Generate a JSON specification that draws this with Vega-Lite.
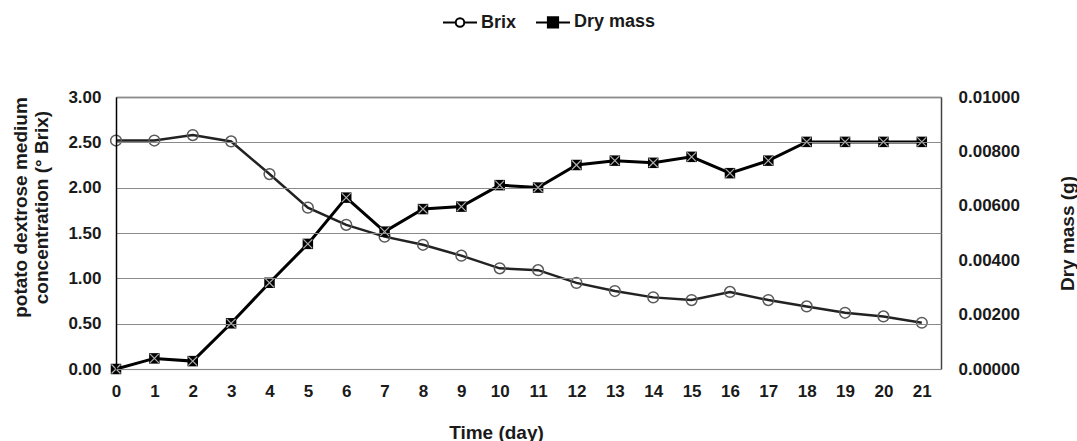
{
  "$schema": "https://vega.github.io/schema/vega-lite/v6.json",
  "autosize": "none",
  "width": 825,
  "height": 272,
  "padding": {"left": 116, "top": 97, "right": 136, "bottom": 72},
  "background": "white",
  "config": {
    "view": {"stroke": null},
    "font": "Liberation Sans",
    "axis": {"labelFont": "Liberation Sans", "titleFont": "Liberation Sans", "labelFontWeight": "bold", "titleFontWeight": "bold", "labelColor": "#1a1a1a", "titleColor": "#1a1a1a"},
    "legend": {"labelFont": "Liberation Sans", "labelFontWeight": "bold"}
  },
  "data": {
    "values": [
      {"day": 0, "series": "Brix", "value": 2.52},
      {"day": 1, "series": "Brix", "value": 2.52},
      {"day": 2, "series": "Brix", "value": 2.58},
      {"day": 3, "series": "Brix", "value": 2.51},
      {"day": 4, "series": "Brix", "value": 2.15},
      {"day": 5, "series": "Brix", "value": 1.78},
      {"day": 6, "series": "Brix", "value": 1.59},
      {"day": 7, "series": "Brix", "value": 1.46},
      {"day": 8, "series": "Brix", "value": 1.37},
      {"day": 9, "series": "Brix", "value": 1.25},
      {"day": 10, "series": "Brix", "value": 1.11},
      {"day": 11, "series": "Brix", "value": 1.09},
      {"day": 12, "series": "Brix", "value": 0.95},
      {"day": 13, "series": "Brix", "value": 0.86},
      {"day": 14, "series": "Brix", "value": 0.79},
      {"day": 15, "series": "Brix", "value": 0.76},
      {"day": 16, "series": "Brix", "value": 0.85},
      {"day": 17, "series": "Brix", "value": 0.76},
      {"day": 18, "series": "Brix", "value": 0.69},
      {"day": 19, "series": "Brix", "value": 0.62},
      {"day": 20, "series": "Brix", "value": 0.58},
      {"day": 21, "series": "Brix", "value": 0.51},
      {"day": 0, "series": "Dry mass", "value": 0.0},
      {"day": 1, "series": "Dry mass", "value": 0.00039},
      {"day": 2, "series": "Dry mass", "value": 0.00029},
      {"day": 3, "series": "Dry mass", "value": 0.00168},
      {"day": 4, "series": "Dry mass", "value": 0.00317},
      {"day": 5, "series": "Dry mass", "value": 0.0046},
      {"day": 6, "series": "Dry mass", "value": 0.0063},
      {"day": 7, "series": "Dry mass", "value": 0.00505},
      {"day": 8, "series": "Dry mass", "value": 0.00588},
      {"day": 9, "series": "Dry mass", "value": 0.00597},
      {"day": 10, "series": "Dry mass", "value": 0.00676},
      {"day": 11, "series": "Dry mass", "value": 0.00667},
      {"day": 12, "series": "Dry mass", "value": 0.0075},
      {"day": 13, "series": "Dry mass", "value": 0.00766},
      {"day": 14, "series": "Dry mass", "value": 0.00758},
      {"day": 15, "series": "Dry mass", "value": 0.0078},
      {"day": 16, "series": "Dry mass", "value": 0.0072},
      {"day": 17, "series": "Dry mass", "value": 0.00766},
      {"day": 18, "series": "Dry mass", "value": 0.00835},
      {"day": 19, "series": "Dry mass", "value": 0.00835},
      {"day": 20, "series": "Dry mass", "value": 0.00835},
      {"day": 21, "series": "Dry mass", "value": 0.00835}
    ]
  },
  "layer": [
    {
      "transform": [{"filter": "datum.series === 'Brix'"}],
      "encoding": {
        "x": {
          "field": "day", "type": "quantitative",
          "scale": {"domain": [0, 21.5], "nice": false, "zero": false},
          "axis": {
            "orient": "bottom",
            "values": [0,1,2,3,4,5,6,7,8,9,10,11,12,13,14,15,16,17,18,19,20,21],
            "format": "d", "labelFontSize": 17, "labelPadding": 14, "labelFlush": false, "labelOverlap": false,
            "ticks": false, "grid": false, "domainColor": "#d9d9d9", "domainWidth": 1.5,
            "title": "Time (day)", "titleFontSize": 19, "titleX": 380, "titleY": 63, "titleAlign": "center", "titleBaseline": "middle"
          }
        },
        "y": {
          "field": "value", "type": "quantitative",
          "scale": {"domain": [0, 3], "nice": false},
          "axis": {
            "orient": "left",
            "values": [0, 0.5, 1, 1.5, 2, 2.5, 3],
            "format": ".2f", "labelFontSize": 17, "labelPadding": 15, "ticks": false,
            "grid": true, "gridColor": "#8a8a8a", "gridWidth": 1,
            "domainColor": "#000000", "domainWidth": 1.5, "zindex": 1,
            "title": ["potato dextrose medium", "concentration (° Brix)"],
            "titleFontSize": 19, "titleLineHeight": 21, "titleAngle": 270,
            "titleX": -96, "titleY": 110, "titleAlign": "center", "titleBaseline": "middle"
          }
        }
      },
      "layer": [
        {"mark": {"type": "line", "color": "#222222", "strokeWidth": 2.5}},
        {"mark": {"type": "point", "filled": false, "shape": "circle", "color": "#5a5a5a", "strokeWidth": 1.5, "size": 115, "opacity": 1}},
        {
          "mark": {"type": "point", "filled": false, "color": "#000000", "strokeWidth": 2, "size": 1156, "opacity": 0},
          "encoding": {
            "shape": {
              "field": "series", "type": "nominal",
              "scale": {
                "domain": ["Brix", "Dry mass"],
                "range": [
                  "M-1,0H-0.25M0.25,0H1M0.25,0A0.25,0.25 0 1,1 -0.25,0A0.25,0.25 0 1,1 0.25,0",
                  "M-1,0H1M-0.3,-0.3H0.3V0.3H-0.3ZM-0.3,-0.2H0.3M-0.3,-0.1H0.3M-0.3,0.1H0.3M-0.3,0.2H0.3"
                ]
              },
              "legend": {
                "title": null, "orient": "none", "direction": "horizontal",
                "legendX": 326, "legendY": -93,
                "symbolSize": 1156, "symbolOpacity": 1, "symbolStrokeColor": "#000000", "symbolFillColor": "transparent",
                "symbolStrokeWidth": 2,
                "labelFontSize": 18, "labelOffset": 3, "columnPadding": 15,
                "labelColor": "#1a1a1a"
              }
            }
          }
        }
      ]
    },
    {
      "transform": [{"filter": "datum.series === 'Dry mass'"}],
      "encoding": {
        "x": {
          "field": "day", "type": "quantitative",
          "axis": {"orient": "top", "labels": false, "ticks": false, "grid": false, "title": null, "domainColor": "#444444", "domainWidth": 1.5}
        },
        "y": {
          "field": "value", "type": "quantitative",
          "scale": {"domain": [0, 0.01], "nice": false},
          "axis": {
            "orient": "right",
            "values": [0, 0.002, 0.004, 0.006, 0.008, 0.01],
            "format": ".5f", "labelFontSize": 17, "labelPadding": 17, "ticks": false, "grid": false,
            "domainColor": "#444444", "domainWidth": 1.5,
            "title": "Dry mass (g)", "titleFontSize": 19, "titleAngle": 270,
            "titleX": 126, "titleY": 136, "titleAlign": "center", "titleBaseline": "middle"
          }
        }
      },
      "layer": [
        {"mark": {"type": "line", "color": "#000000", "strokeWidth": 3}},
        {"mark": {"type": "point", "filled": true, "shape": "square", "color": "#000000", "size": 110, "opacity": 1}},
        {"mark": {"type": "point", "filled": false, "shape": "M-1,-1L1,1M1,-1L-1,1", "color": "#b0b0b0", "strokeWidth": 1.2, "size": 80, "opacity": 1}}
      ]
    }
  ],
  "resolve": {"scale": {"y": "independent"}, "axis": {"x": "independent", "y": "independent"}}
}
